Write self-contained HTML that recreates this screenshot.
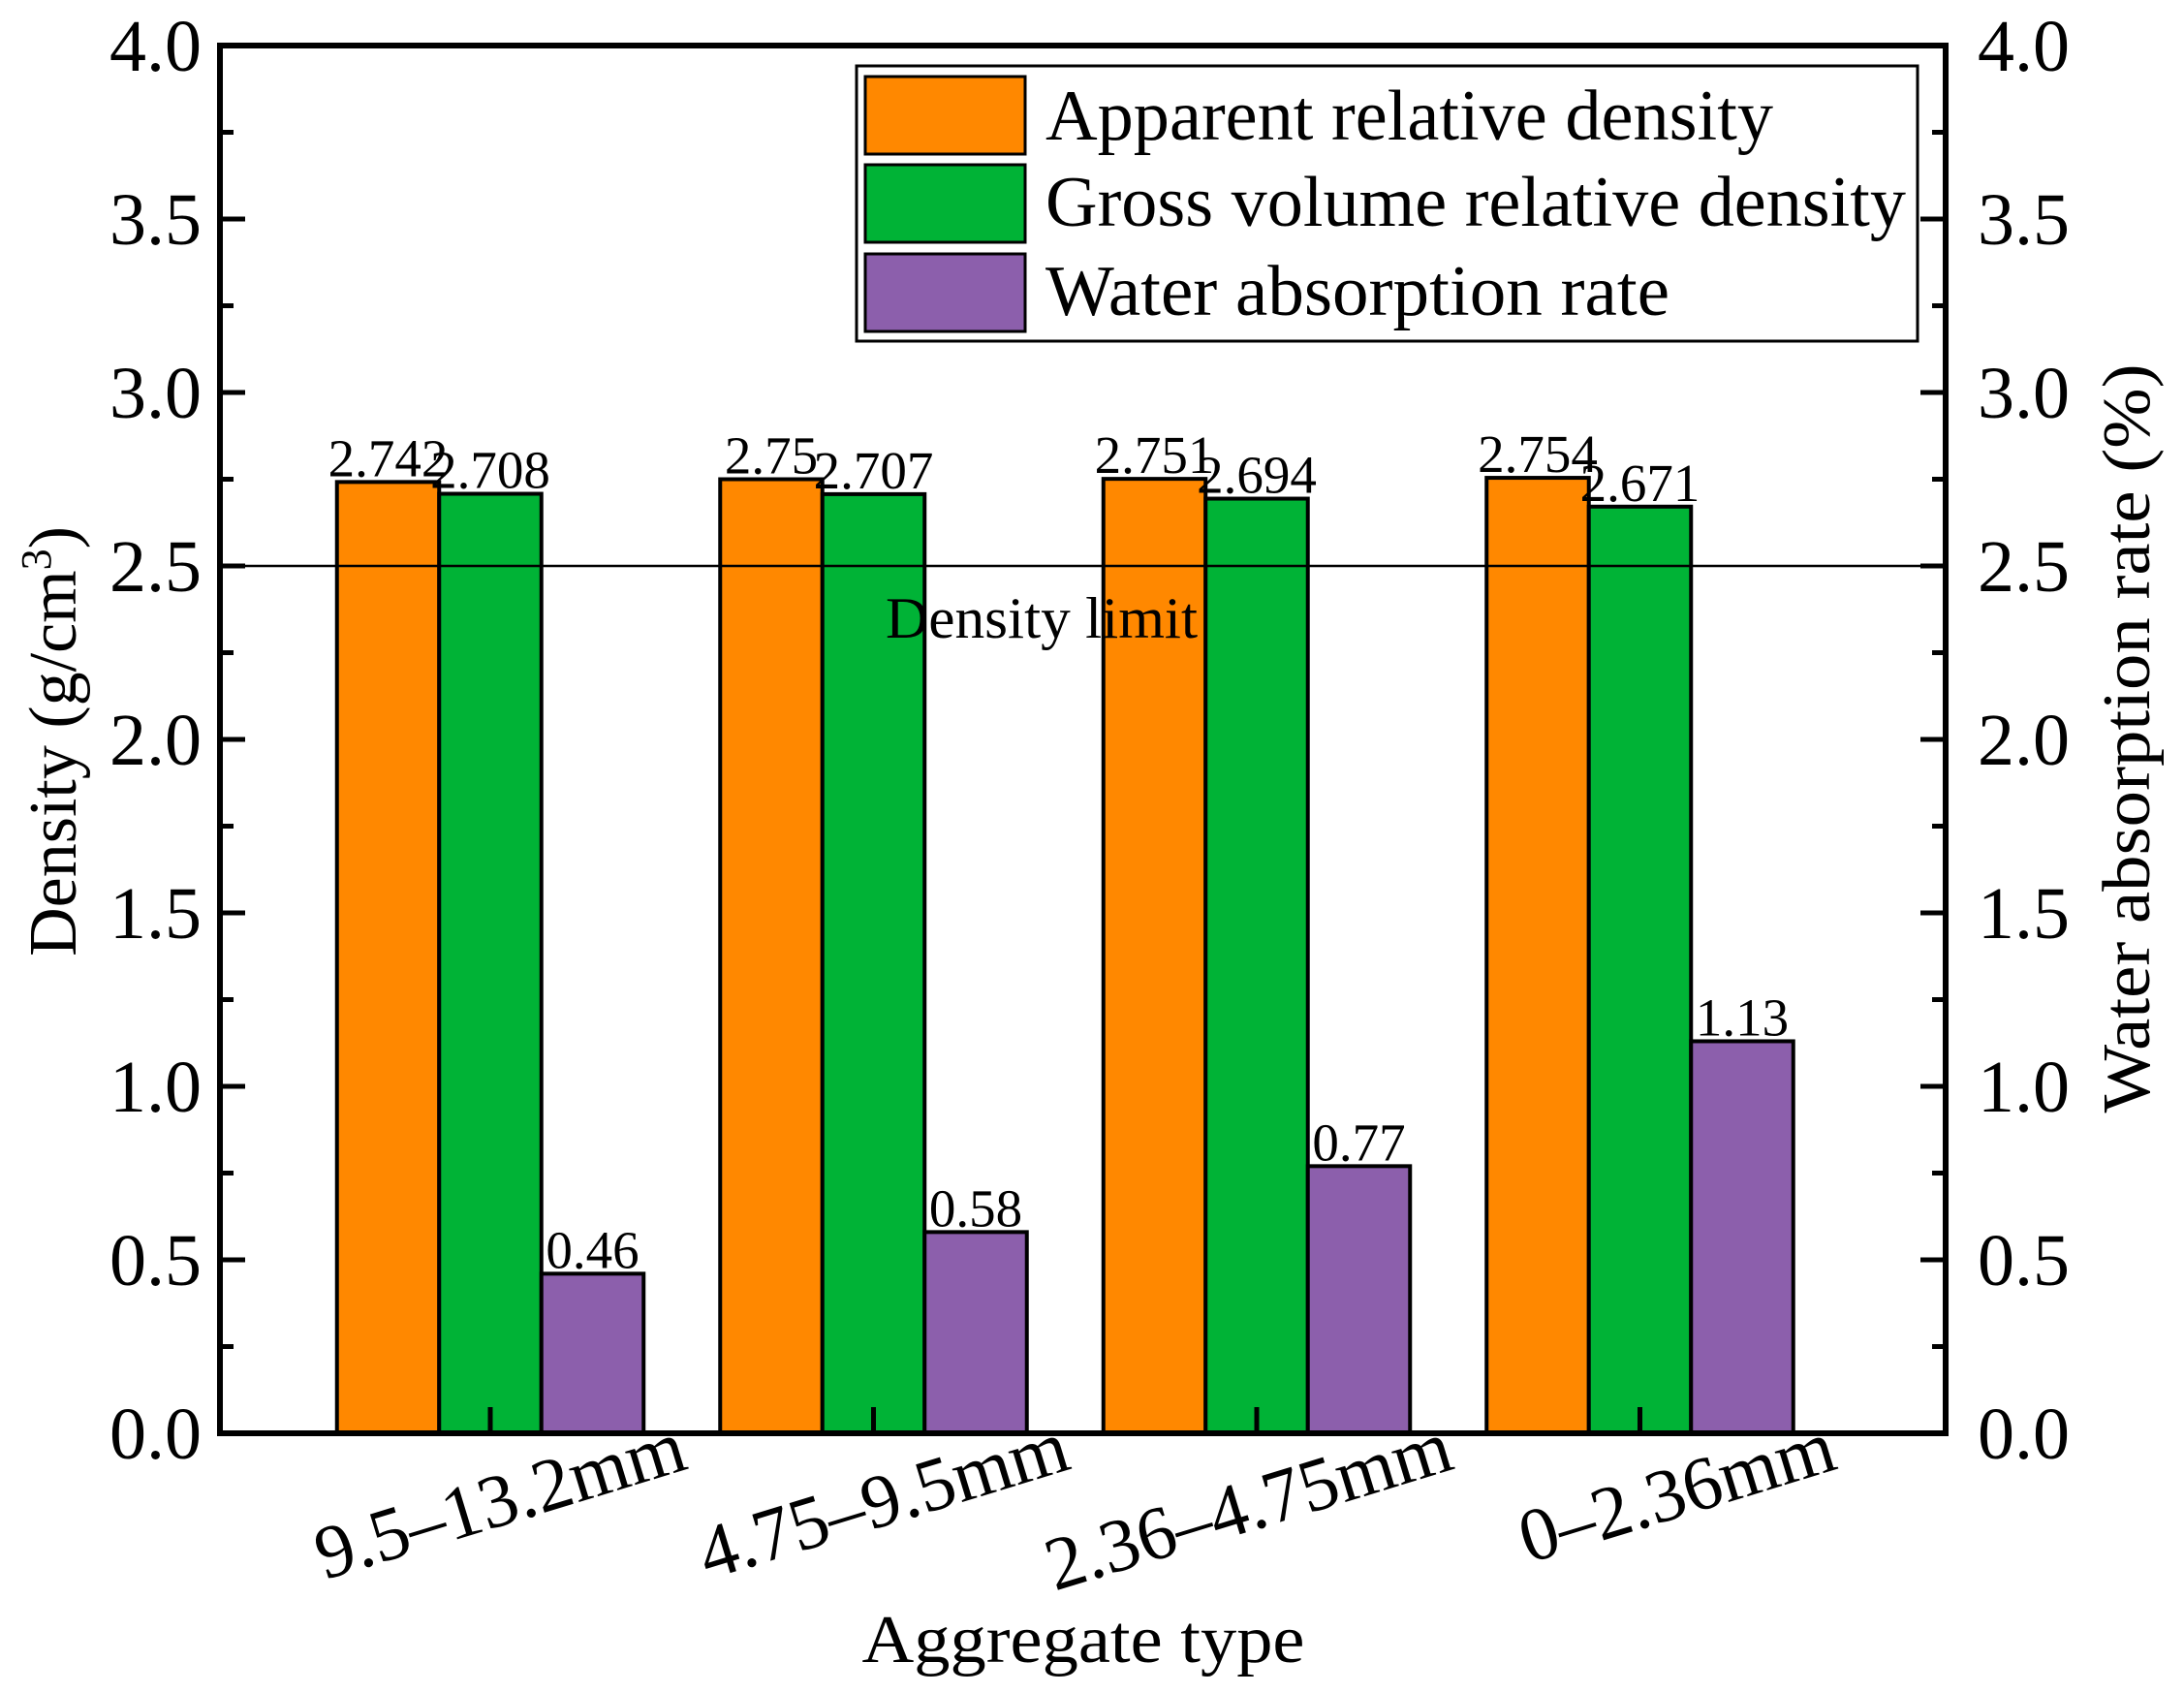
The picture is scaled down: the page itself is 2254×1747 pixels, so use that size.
<!DOCTYPE html>
<html><head><meta charset="utf-8"><style>
html,body{margin:0;padding:0;background:#fff;}
svg{display:block;font-family:"Liberation Serif","Times New Roman",serif;}
</style></head><body>
<svg id="chart" width="2254" height="1747" viewBox="0 0 2254 1747" xmlns="http://www.w3.org/2000/svg">
<rect x="0" y="0" width="2254" height="1747" fill="#fff"/>
<g id="bars"></g>
<g id="labels"></g>
<g id="axes"></g>
</svg>
<script>
const categories = ["9.5–13.2mm", "4.75–9.5mm", "2.36–4.75mm", "0–2.36mm"];
const apparentDensity = [2.742, 2.75, 2.751, 2.754];
const grossDensity = [2.708, 2.707, 2.694, 2.671];
const waterAbsorption = [0.46, 0.58, 0.77, 1.13];
const apparentLabels = ["2.742", "2.75", "2.751", "2.754"];
const grossLabels = ["2.708", "2.707", "2.694", "2.671"];
const waterLabels = ["0.46", "0.58", "0.77", "1.13"];
const yTicks = ["0.0", "0.5", "1.0", "1.5", "2.0", "2.5", "3.0", "3.5", "4.0"];
const densityLimit = 2.5;

const NS = "http://www.w3.org/2000/svg";
const L = 227, R = 2008, T = 47, B = 1479;
const Y0 = 0, Y1 = 4;
function yScale(v){ return B - (v - Y0) / (Y1 - Y0) * (B - T); }
function yRight(v){ return B - (v - 0) / 4 * (B - T); }
const firstCenter = 506, groupStep = 395.5, barW = 105.5;
function xCenter(i){ return firstCenter + i * groupStep; }
function mk(tag, attrs, parent){
  const e = document.createElementNS(NS, tag);
  for (const k in attrs) e.setAttribute(k, attrs[k]);
  parent.appendChild(e);
  return e;
}
const gBars = document.getElementById('bars');
const gLab = document.getElementById('labels');
const gAx = document.getElementById('axes');
const series = [
  {vals: apparentDensity, labs: apparentLabels, color: "#FF8800", off: -1, ys: yScale, name: "apparent"},
  {vals: grossDensity, labs: grossLabels, color: "#00B336", off: 0, ys: yScale, name: "gross"},
  {vals: waterAbsorption, labs: waterLabels, color: "#8C5FAC", off: 1, ys: yRight, name: "water"}
];
series.forEach(s => {
  s.vals.forEach((v, i) => {
    const cx = xCenter(i) + s.off * barW;
    const top = s.ys(v);
    const r = mk('rect', {x: cx - barW/2, y: top, width: barW, height: B - top, fill: s.color, stroke: "#000", "stroke-width": 4}, gBars);
    
    
    const t = mk('text', {x: cx, y: top - 6, "text-anchor": "middle", "font-size": 55, fill: "#000"}, gLab);
    t.textContent = s.labs[i];
    
    
  });
});
const ly = yScale(densityLimit);
const dl = mk('line', {x1: L, x2: R, y1: ly, y2: ly, stroke: "#000", "stroke-width": 2.5}, gAx);


const dlt = mk('text', {x: 914, y: 658, "font-size": 60, textLength: 322, lengthAdjust: "spacingAndGlyphs"}, gAx);
dlt.textContent = "Density limit";


const fr = mk('rect', {x: L, y: T, width: R - L, height: B - T, fill: "none", stroke: "#000", "stroke-width": 6}, gAx);


for (let k = 0; k <= 16; k++) {
  const v = k * 0.25;
  const y = yScale(v);
  const major = k % 2 === 0;
  const len = major ? 26 : 14;
  const a = mk('line', {x1: L, x2: L + len, y1: y, y2: y, stroke: "#000", "stroke-width": 5}, gAx);
  
  
  const b = mk('line', {x1: R, x2: R - len, y1: y, y2: y, stroke: "#000", "stroke-width": 5}, gAx);
  
  
}
yTicks.forEach((lab, i) => {
  const v = parseFloat(lab);
  const y = yScale(v) + 26;
  const a = mk('text', {x: 208, y: y, "text-anchor": "end", "font-size": 76}, gAx);
  a.textContent = lab;
  
  
  const b = mk('text', {x: 2041, y: yRight(v) + 26, "text-anchor": "start", "font-size": 76}, gAx);
  b.textContent = lab;
  
  
});
categories.forEach((c, i) => {
  const cx = xCenter(i);
  const tk = mk('line', {x1: cx, x2: cx, y1: B, y2: B - 27, stroke: "#000", "stroke-width": 5}, gAx);
  
  
  const ex = cx + 206, ey = 1515;
  const t = mk('text', {x: ex, y: ey, "text-anchor": "end", "font-size": 78, transform: `rotate(-17 ${ex} ${ey})`}, gAx);
  t.textContent = c;
  
  
});
</script>
<script>
const svg = document.getElementById('chart');
function add(tag, attrs, text){
  const e = document.createElementNS("http://www.w3.org/2000/svg", tag);
  for (const k in attrs) e.setAttribute(k, attrs[k]);
  if (text) e.textContent = text;
  svg.appendChild(e);
  return e;
}
const yt = add('text', {x: 0, y: 0, "text-anchor": "middle", "font-size": 70, transform: "translate(78 765) rotate(-90)"});
yt.innerHTML = 'Density (g/cm<tspan font-size="44" dy="-26">3</tspan><tspan dy="26">)</tspan>';


const rt = add('text', {x: 0, y: 0, "text-anchor": "middle", "font-size": 70, textLength: 773, lengthAdjust: "spacingAndGlyphs", transform: "translate(2218 762) rotate(-90)"}, "Water absorption rate (%)");


const xt = add('text', {x: 1118, y: 1715, "text-anchor": "middle", "font-size": 70, textLength: 457, lengthAdjust: "spacingAndGlyphs"}, "Aggregate type");


const lg = add('rect', {x: 884, y: 68, width: 1095, height: 284, fill: "#fff", stroke: "#000", "stroke-width": 3});


const legItems = [
  ["#FF8800", 79, "Apparent relative density", 751, 144],
  ["#00B336", 170, "Gross volume relative density", 888, 233],
  ["#8C5FAC", 262, "Water absorption rate", 644, 325]
];
legItems.forEach((it, i) => {
  const sw = add('rect', {x: 893, y: it[1], width: 165, height: 80, fill: it[0], stroke: "#000", "stroke-width": 3});
  
  
  const tx = add('text', {x: 1079, y: it[4], "font-size": 74, textLength: it[3], lengthAdjust: "spacingAndGlyphs"}, it[2]);
  
  
});
</script>
</body></html>
